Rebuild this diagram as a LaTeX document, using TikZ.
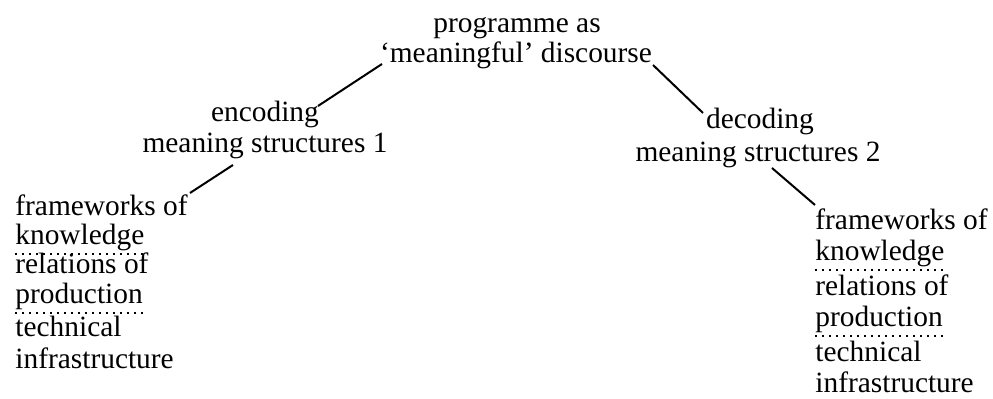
\documentclass[tikz,border=0pt]{standalone}
\usepackage{fontspec}
\setmainfont{Liberation Serif}
\begin{document}
\begin{tikzpicture}[x=0.5pt,y=-0.5pt,
  txt/.style={font=\fontsize{14.7}{16}\selectfont, inner sep=0pt},
  conn/.style={line width=1pt},
  dotul/.style={line width=0.8pt, dash pattern=on 0.8pt off 2.7pt}]
\useasboundingbox (0,0) rectangle (993,399);
% top
\node[txt, anchor=base] (p1) at (517,33) {programme as};
\node[txt, anchor=base] (p2) at (516,63) {‘meaningful’ discourse};
% encoding
\node[txt, anchor=base] (e1) at (265,122) {encoding};
\node[txt, anchor=base] (e2) at (265,153) {meaning structures 1};
% decoding
\node[txt, anchor=base] (d1) at (760,129) {decoding};
\node[txt, anchor=base] (d2) at (758,162) {meaning structures 2};
% left list
\node[txt, anchor=base west] (l1) at (15,216) {frameworks of};
\node[txt, anchor=base west] (l2) at (15,245) {knowledge};
\node[txt, anchor=base west] (l3) at (15,274) {relations of};
\node[txt, anchor=base west] (l4) at (15,304) {production};
\node[txt, anchor=base west] (l5) at (15,337) {technical};
\node[txt, anchor=base west] (l6) at (15,369) {infrastructure};
% right list
\node[txt, anchor=base west] (r1) at (815,230) {frameworks of};
\node[txt, anchor=base west] (r2) at (815,261) {knowledge};
\node[txt, anchor=base west] (r3) at (815,296) {relations of};
\node[txt, anchor=base west] (r4) at (815,327) {production};
\node[txt, anchor=base west] (r5) at (815,362) {technical};
\node[txt, anchor=base west] (r6) at (815,393) {infrastructure};
% connector end points
\coordinate (a1) at (382,64);
\coordinate (a2) at (318,106);
\coordinate (b1) at (653,65);
\coordinate (b2) at (703,113);
\coordinate (c1) at (233,165);
\coordinate (c2) at (190,193);
\coordinate (f1) at (772,168);
\coordinate (f2) at (815,205);
\draw[conn] (a1) -- (a2);
\draw[conn] (b1) -- (b2);
\draw[conn] (c1) -- (c2);
\draw[conn] (f1) -- (f2);
% dotted underlines
\draw[dotul] ([yshift=-4.5pt]l2.base west) -- ([yshift=-4.5pt]l2.base east);
\draw[dotul] ([yshift=-4.5pt]l4.base west) -- ([yshift=-4.5pt]l4.base east);
\draw[dotul] ([yshift=-4.5pt]r2.base west) -- ([yshift=-4.5pt]r2.base east);
\draw[dotul] ([yshift=-4.5pt]r4.base west) -- ([yshift=-4.5pt]r4.base east);
\end{tikzpicture}
\end{document}
